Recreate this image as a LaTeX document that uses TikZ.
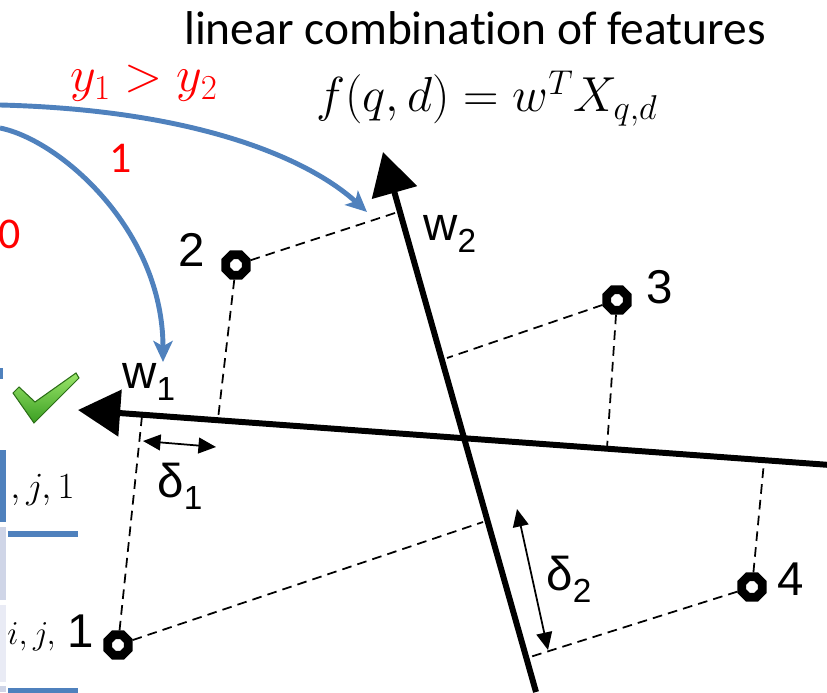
\RequirePackage{fix-cm}
\documentclass[tikz,border=0pt]{standalone}
\usepackage{fontspec}
\setmainfont{Carlito}[Ligatures=NoCommon]
\newfontfamily\arialfont{Liberation Sans}
\usetikzlibrary{arrows.meta,shapes.geometric}
\definecolor{Ink}{HTML}{000000}
\definecolor{Blue}{HTML}{4F81BD}
\definecolor{Red}{HTML}{FF0000}
\definecolor{GreenTop}{HTML}{9BE66A}
\definecolor{GreenBot}{HTML}{3A9E22}
\definecolor{GreenEdge}{HTML}{2B6E17}
\definecolor{CellA}{HTML}{CFD5E7}
\definecolor{CellB}{HTML}{E9EBF5}
\newcommand{\sublabel}[2]{{\arialfont #1\raisebox{-0.26em}{\fontsize{19}{19}\selectfont #2}}}
\tikzset{
  axis/.style={Ink, line width=3.4pt, -{Triangle[length=24pt,width=26pt]}},
  proj/.style={Ink, line width=1pt, dash pattern=on 5.5pt off 3.5pt},
  dot/.style={regular polygon, regular polygon sides=8, draw=Ink, fill=white, line width=5pt, minimum size=0.44cm, inner sep=0pt},
  gap/.style={Ink, line width=1pt, {Triangle[length=10pt,width=9pt]}-{Triangle[length=10pt,width=9pt]}},
  link/.style={Blue, line width=2.8pt, -{Stealth[length=12pt,width=11pt,inset=3pt]}},
  ptlabel/.style={font=\arialfont\fontsize{27}{27}\selectfont, inner sep=0pt},
  redlabel/.style={text=Red, inner sep=0pt},
}

\begin{document}
\begin{tikzpicture}[x=0.02cm, y=-0.02cm]
        \useasboundingbox (0,0) rectangle (827,692);
        \clip (0,0) rectangle (827,692);
        \fill[Blue] (0,450) rectangle (6,522);
        \fill[CellA] (0,527) rectangle (6,600);
        \fill[CellB] (0,605) rectangle (6,682);
        \fill[CellA] (0,686) rectangle (6,692);
        \fill[Blue] (8,531) rectangle (78,537);
        \fill[Blue] (8,688) rectangle (78,694);
        \fill[Blue] (0,368) rectangle (3,379);
        \node[anchor=base west, inner sep=0pt, font=\fontsize{21}{21}\selectfont] (cella) at (10,498) {$,j,1$};
        \node[anchor=base west, inner sep=0pt, font=\fontsize{19}{19}\selectfont] (cellb) at (7,644) {$i,j,$};
        \draw[GreenEdge, line width=0.6pt, top color=GreenTop, bottom color=GreenBot]
          (13,393) -- (19,387) -- (35,402) -- (76,373) -- (79,378) -- (34,423) -- cycle;
        \node[anchor=base, inner sep=0pt, font=\fontsize{27}{27}\selectfont] (title) at (475,45) {linear combination of features};
        \node[anchor=base, inner sep=0pt, font=\fontsize{28}{28}\selectfont] (model) at (487,112) {$f(q,d) = w^T X_{q,d}$};
        \coordinate (w1tip) at (78,410);
        \coordinate (w1end) at (830,465);
        \coordinate (w2tip) at (383,152);
        \coordinate (w2end) at (536,692);
        \draw[axis] (w1end) -- (w1tip);
        \draw[axis] (w2end) -- (w2tip);
        \node[dot] (p1) at (118,645) {};
        \node[dot] (p2) at (236,265) {};
        \node[dot] (p3) at (617,300) {};
        \node[dot] (p4) at (752,587) {};
        \coordinate (f1a) at (142,416);
        \coordinate (f1b) at (483,522);
        \coordinate (f2a) at (218,419);
        \coordinate (f2b) at (398,212);
        \coordinate (f3a) at (607,448);
        \coordinate (f3b) at (447,358);
        \coordinate (f4a) at (764,462);
        \coordinate (f4b) at (530,657);
        \draw[proj] (p1) -- (f1a);
        \draw[proj] (p1) -- (f1b);
        \draw[proj] (p2) -- (f2a);
        \draw[proj] (p2) -- (f2b);
        \draw[proj] (p3) -- (f3a);
        \draw[proj] (p3) -- (f3b);
        \draw[proj] (p4) -- (f4a);
        \draw[proj] (p4) -- (f4b);
        \node[ptlabel, anchor=base east] (l1) at (94,647) {1};
        \node[ptlabel, anchor=base] (l2) at (192,267) {2};
        \node[ptlabel, anchor=base west] (l3) at (646,303) {3};
        \node[ptlabel, anchor=base west] (l4) at (777,595) {4};
        \node[ptlabel, anchor=base west] (lw1) at (122,388) {\sublabel{w}{1}};
        \node[ptlabel, anchor=base west] (lw2) at (423,240) {\sublabel{w}{2}};
        \coordinate (d1a) at (143,441);
        \coordinate (d1b) at (216,447);
        \coordinate (d2a) at (517,509);
        \coordinate (d2b) at (548,650);
        \draw[gap] (d1a) -- (d1b);
        \draw[gap] (d2a) -- (d2b);
        \node[ptlabel, anchor=base west] (ld1) at (157,497) {\sublabel{δ}{1}};
        \node[ptlabel, anchor=base west] (ld2) at (546,590) {\sublabel{δ}{2}};
        \coordinate (src1) at (0,105);
        \coordinate (src2) at (0,128);
        \coordinate (dst1) at (367,212);
        \coordinate (dst2) at (163,362);
        \draw[link] (src1) .. controls (200,110) and (310,160) .. (dst1);
        \draw[link] (src2) .. controls (60,140) and (163,230) .. (dst2);
        \node[redlabel, anchor=base, font=\fontsize{28.5}{28.5}\selectfont] (order) at (144,92) {$y_1 > y_2$};
        \node[redlabel, anchor=base, font=\fontsize{25}{25}\selectfont] (one) at (121,173) {1};
        \node[redlabel, anchor=base east, font=\fontsize{25}{25}\selectfont] (zero) at (21,249) {0};
\end{tikzpicture}
\end{document}
